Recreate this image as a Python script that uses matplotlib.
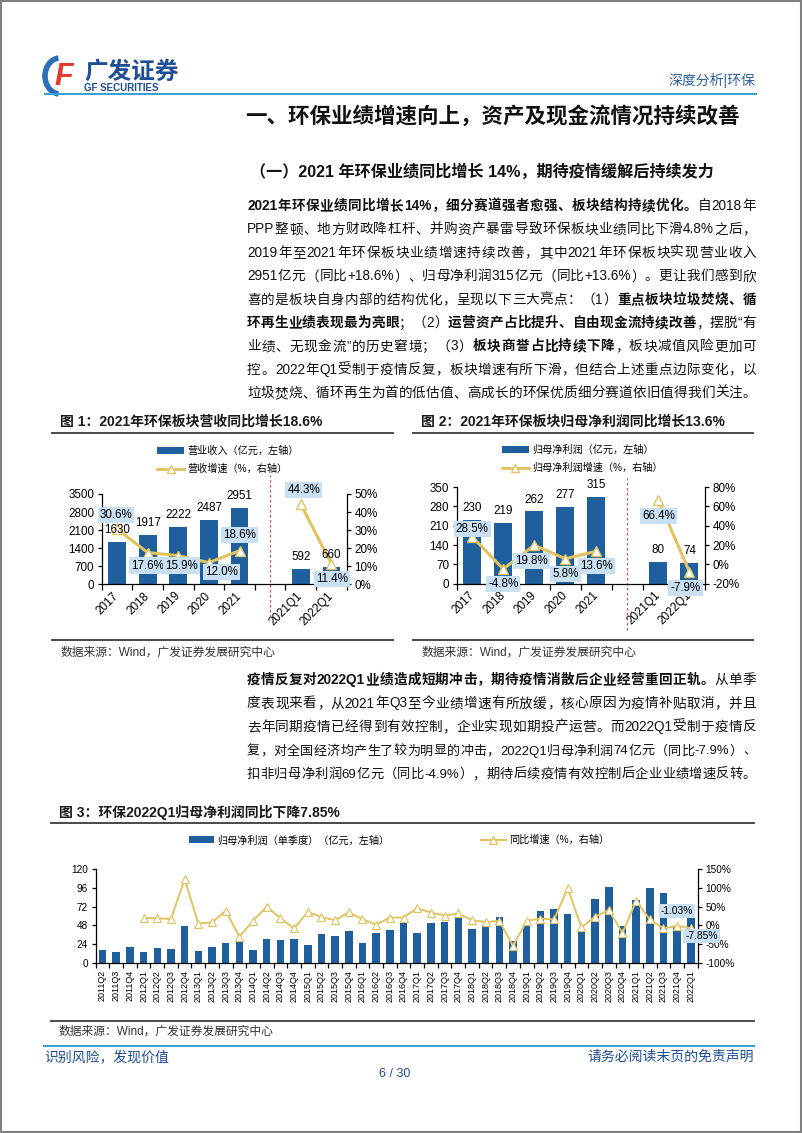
import re
import numpy as np
import matplotlib
matplotlib.use('Agg')
import matplotlib.pyplot as plt
from matplotlib.patches import Rectangle, Arc, Patch
from matplotlib.lines import Line2D
from matplotlib.ticker import FuncFormatter

FAM = ['Liberation Sans', 'Noto Sans CJK SC']
plt.rcParams['font.family'] = FAM

W, H = 802, 1133
BLUE = '#1f5f9e'
GOLD = '#e2c35f'
TAG = '#c9e0f3'
DASH = '#d9534f'
NAVY = '#1f4f96'

# ---- chart 1 / chart 2 data (annual + Q1) ----
cats_y = ['2017', '2018', '2019', '2020', '2021', '', '2021Q1', '2022Q1']
revenue = np.array([1630, 1917, 2222, 2487, 2951, np.nan, 592, 660])
revenue_yoy = np.array([30.6, 17.6, 15.9, 12.0, 18.6, np.nan, 44.3, 11.4])
profit = np.array([230, 219, 262, 277, 315, np.nan, 80, 74])
profit_yoy = np.array([28.5, -4.8, 19.8, 5.8, 13.6, np.nan, 66.4, -7.9])

# ---- chart 3 data (single quarter) ----
quarters = ['2011Q2', '2011Q3', '2011Q4'] + [f'{y}Q{q}' for y in range(2012, 2022) for q in range(1, 5)] + ['2022Q1']
q_profit = [16, 14.5, 21,
            14, 19, 18, 47.5,
            15, 21, 25, 29.5,
            17, 31, 30, 31,
            23, 37.5, 34.5, 41,
            26, 38, 42, 51,
            38, 51, 52, 58,
            44, 48, 59, 28,
            48.5, 66, 69, 62,
            42, 82, 97, 47,
            80, 96, 90, 46.5,
            74]
q_yoy = [np.nan, np.nan, np.nan,
         20, 19, 17, 123,
         5, 8, 39, -30,
         12, 50, 19, -8,
         36, 22, 14, 35,
         16, 2, 21, 21,
         46, 34, 26, 32,
         14, 9, 12, -55,
         12, 18, 16, 99,
         -5, 23, 41, -20,
         65, 16, -8, -1.03,
         -7.85]

fig = plt.figure(figsize=(W / 100, H / 100), dpi=100)
page = fig.add_axes([0, 0, 1, 1])
page.set_xlim(0, W)
page.set_ylim(H, 0)
page.axis('off')
renderer = fig.canvas.get_renderer()


def add_ax(x0, y0, x1, y1):
    return fig.add_axes([x0 / W, 1 - y1 / H, (x1 - x0) / W, (y1 - y0) / H])


TOKEN = re.compile(r"[A-Za-z0-9.%+\-]+|\S")


def text_line(y, runs, x0=247, x1=756, size=9.8, color='#111111'):
    # justified line: tokens spread evenly between x0 and x1
    items = []
    for s, bold in runs:
        for tok in TOKEN.findall(s):
            items.append(page.text(0, y, tok, fontsize=size, color=color,
                                   fontweight='bold' if bold else 'normal',
                                   ha='left', va='baseline'))
    widths = [t.get_window_extent(renderer=renderer).width for t in items]
    if sum(widths) > (x1 - x0):
        k = (x1 - x0) / sum(widths) * 0.985
        for t in items:
            t.set_fontsize(size * k)
        widths = [t.get_window_extent(renderer=renderer).width for t in items]
    gap = (x1 - x0 - sum(widths)) / max(len(items) - 1, 1)
    x = x0
    for t, w in zip(items, widths):
        t.set_x(x)
        x += w + gap


# ---- page frame and header ----
page.add_patch(Rectangle((1, 1), W - 2, H - 2, fill=False, ec='#808080', lw=1.5))
page.add_patch(Arc((60, 76), 30, 36, theta1=95, theta2=265, color='#2a6fb8', lw=4))
page.text(64, 77, 'F', fontsize=22, color='#e8382d', fontweight='bold', style='italic',
          ha='center', va='center', family='Liberation Sans')
page.text(84, 72, '广发证券', fontsize=17, color=NAVY, fontweight='bold', va='center')
page.text(84, 88, 'GF SECURITIES', fontsize=7, color=NAVY, fontweight='bold', va='center')
page.text(755, 81, '深度分析|环保', fontsize=10, color='#2f5f9f', ha='right', va='center')
page.plot([45, 756], [93.5, 93.5], color='#3aa0d8', lw=1.5)

page.text(245, 117, '一、环保业绩增速向上，资产及现金流情况持续改善', fontsize=15.5,
          fontweight='bold', va='center', color='#111111')
page.text(250, 172, '（一）2021 年环保业绩同比增长 14%，期待疫情缓解后持续发力', fontsize=11.6,
          fontweight='bold', va='center', color='#111111')

para1 = [
    [('2021年环保业绩同比增长14%，细分赛道强者愈强、板块结构持续优化。', True), ('自2018年', False)],
    [('PPP整顿、地方财政降杠杆、并购资产暴雷导致环保板块业绩同比下滑4.8%之后，', False)],
    [('2019年至2021年环保板块业绩增速持续改善，其中2021年环保板块实现营业收入', False)],
    [('2951亿元（同比+18.6%）、归母净利润315亿元（同比+13.6%）。更让我们感到欣', False)],
    [('喜的是板块自身内部的结构优化，呈现以下三大亮点：（1）', False), ('重点板块垃圾焚烧、循', True)],
    [('环再生业绩表现最为亮眼', True), ('；（2）', False), ('运营资产占比提升、自由现金流持续改善', True), ('，摆脱“有', False)],
    [('业绩、无现金流”的历史窘境；（3）', False), ('板块商誉占比持续下降', True), ('，板块减值风险更加可', False)],
    [('控。2022年Q1受制于疫情反复，板块增速有所下滑，但结合上述重点边际变化，以', False)],
    [('垃圾焚烧、循环再生为首的低估值、高成长的环保优质细分赛道依旧值得我们关注。', False)],
]
for i, runs in enumerate(para1):
    text_line(210 + 23.4 * i, runs)

para2 = [
    [('疫情反复对2022Q1业绩造成短期冲击，期待疫情消散后企业经营重回正轨。', True), ('从单季', False)],
    [('度表现来看，从2021年Q3至今业绩增速有所放缓，核心原因为疫情补贴取消，并且', False)],
    [('去年同期疫情已经得到有效控制，企业实现如期投产运营。而2022Q1受制于疫情反', False)],
    [('复，对全国经济均产生了较为明显的冲击，2022Q1归母净利润74亿元（同比-7.9%）、', False)],
    [('扣非归母净利润69亿元（同比-4.9%），期待后续疫情有效控制后企业业绩增速反转。', False)],
]
for i, runs in enumerate(para2):
    text_line(684 + 23.5 * i, runs)

# chart titles, rules, sources
for x0, x1, title in [(52, 393, '图 1：2021年环保板块营收同比增长18.6%'),
                      (413, 753, '图 2：2021年环保板块归母净利润同比增长13.6%')]:
    page.text(x0 + 8, 421.5, title, fontsize=10, fontweight='bold', va='center', color='#1a1a1a')
    page.plot([x0, x1], [432.5, 432.5], color='#3a3a3a', lw=1.3)
    page.plot([x0, x1], [640, 640], color='#3a3a3a', lw=1.3)
    page.text(x0 + 9, 653, '数据来源：Wind，广发证券发展研究中心', fontsize=8.5, va='center', color='#333333')

page.text(59, 812, '图 3：环保2022Q1归母净利润同比下降7.85%', fontsize=10, fontweight='bold',
          va='center', color='#1a1a1a')
page.plot([51, 754], [822.7, 822.7], color='#3a3a3a', lw=1.3)
page.plot([51, 754], [1020.7, 1020.7], color='#3a3a3a', lw=1.3)
page.text(59, 1032, '数据来源：Wind，广发证券发展研究中心', fontsize=8.5, va='center', color='#333333')

# footer
page.plot([44, 754], [1045.7, 1045.7], color='#3aa0d8', lw=1.5)
page.text(44, 1057, '识别风险，发现价值', fontsize=10, color=NAVY, va='center')
page.text(754, 1057, '请务必阅读末页的免责声明', fontsize=10, color=NAVY, va='center', ha='right')
page.text(395, 1074, '6 / 30', fontsize=9, color=NAVY, va='center', ha='center')

pct = FuncFormatter(lambda v, p: f'{v:.0f}%')


def style_axes(ax, axr, size):
    for s in ('top', 'right'):
        ax.spines[s].set_visible(False)
    for s in ('top', 'left', 'bottom'):
        axr.spines[s].set_visible(False)
    for a in (ax, axr):
        for s in a.spines.values():
            s.set_color('black')
            s.set_linewidth(0.9)
    ax.tick_params(axis='y', labelsize=size, length=3, width=0.9, pad=2.5)
    axr.tick_params(axis='y', labelsize=size, length=3, width=0.9, pad=2.5)
    axr.yaxis.set_major_formatter(pct)


def annual_chart(box, values, growth, lticks, rticks, offs, labels, leg_xy, dash):
    ax = add_ax(*box)
    x = np.arange(len(cats_y))
    ok = ~np.isnan(values)
    ax.bar(x[ok], values[ok], width=0.58, color=BLUE)
    ax.set_xlim(-0.5, len(x) - 0.5)
    ax.set_ylim(lticks[0], lticks[-1])
    ax.set_yticks(lticks)
    ax.set_xticks(x)
    ax.set_xticklabels(cats_y, rotation=45, ha='right', va='center', rotation_mode='anchor', fontsize=8.4)
    ax.tick_params(axis='x', length=0, pad=7)
    ax.set_xticks(np.arange(-0.5, len(x)), minor=True)
    ax.tick_params(axis='x', which='minor', length=4, width=0.9)
    ax.axvline(5, ymin=dash[0], ymax=dash[1], color=DASH, ls=(0, (2, 2)), lw=0.9, clip_on=False)

    axr = ax.twinx()
    axr.set_ylim(rticks[0], rticks[-1])
    axr.set_yticks(rticks)
    for seg in (slice(0, 5), slice(6, 8)):
        axr.plot(x[seg], growth[seg], color=GOLD, lw=2.2, marker='^', ms=7, mfc='white', mec=GOLD, mew=1)
    # bar values drawn on the twin so they sit above the growth line
    for xi, v in zip(x[ok], values[ok]):
        axr.annotate(f'{v:g}', (xi, v), xycoords=ax.transData, xytext=(0, 8.5), textcoords='offset points',
                     ha='center', va='center', fontsize=8.4, zorder=4)
    for xi, v, o in zip(x, growth, offs):
        if np.isnan(v):
            continue
        axr.annotate(f'{v:.1f}%', (xi, v), xytext=(o[0] * 0.72, o[1] * 0.72), textcoords='offset points',
                     ha='center', va='center', fontsize=8.4, zorder=5,
                     bbox=dict(boxstyle='square,pad=0.18', fc=TAG, ec='none'))
    style_axes(ax, axr, 8.4)
    handles = [Patch(facecolor=BLUE),
               Line2D([0], [0], color=GOLD, lw=2, marker='^', ms=6, mfc='white', mec=GOLD)]
    axr.legend(handles, labels, loc='upper left', bbox_to_anchor=leg_xy, bbox_transform=page.transData,
               frameon=False, prop={'family': FAM, 'size': 7.3}, handlelength=2.7, handletextpad=0.3,
               labelspacing=0.75, borderpad=0, borderaxespad=0)
    return ax, axr


annual_chart((101.7, 494, 346.7, 584.3), revenue, revenue_yoy, np.arange(0, 3501, 700), np.arange(0, 51, 10),
             [(-1, 14), (0, -13), (3, -10), (13, -9), (0, 16), None, (3, 14), (1, -15)],
             ['营业收入（亿元，左轴）', '营收增速（%，右轴）'], (157, 446), (-0.36, 1.21))
annual_chart((456.7, 487, 705, 583.7), profit, profit_yoy, np.arange(0, 351, 70), np.arange(-20, 81, 20),
             [(0, 8), (0, -15), (-3, -16), (0, -15), (0, -15), None, (0, -16), (-4, -16)],
             ['归母净利润（亿元，左轴）', '归母净利润增速（%，右轴）'], (501.7, 445), (-0.48, 1.09))

# ---- chart 3 ----
ax3 = add_ax(95.7, 869, 697.7, 963)
xq = np.arange(len(quarters))
ax3.bar(xq, q_profit, width=0.55, color=BLUE)
ax3.set_xlim(-0.5, len(xq) - 0.5)
ax3.set_ylim(0, 120)
ax3.set_yticks(np.arange(0, 121, 24))
ax3.set_xticks(xq)
ax3.set_xticklabels(quarters, rotation=90, fontsize=6.5)
ax3.tick_params(axis='x', length=0, pad=5)
ax3.set_xticks(np.arange(-0.5, len(xq)), minor=True)
ax3.tick_params(axis='x', which='minor', length=3.5, width=0.9)
axr3 = ax3.twinx()
axr3.set_ylim(-100, 150)
axr3.set_yticks(np.arange(-100, 151, 50))
axr3.plot(xq, q_yoy, color=GOLD, lw=1.4, marker='^', ms=5.5, mfc='white', mec=GOLD, mew=0.8)
for i, o in [(42, (0, 10.8)), (43, (7.7, -5.5))]:
    axr3.annotate(f'{q_yoy[i]:.2f}%', (xq[i], q_yoy[i]), xytext=o, textcoords='offset points',
                  ha='center', va='center', fontsize=7.4, zorder=5,
                  bbox=dict(boxstyle='square,pad=0.18', fc=TAG, ec='none'))
style_axes(ax3, axr3, 7.2)
handles3 = [Patch(facecolor=BLUE),
            Line2D([0], [0], color=GOLD, lw=1.6, marker='^', ms=5.5, mfc='white', mec=GOLD)]
axr3.legend(handles3, ['归母净利润（单季度）（亿元，左轴）', '同比增速（%，右轴）'], loc='upper left',
            bbox_to_anchor=(189, 835), bbox_transform=page.transData, ncol=2, frameon=False,
            prop={'family': FAM, 'size': 7.3}, handlelength=2.5, handletextpad=0.3,
            columnspacing=9.0, borderpad=0, borderaxespad=0)

fig.savefig('out.png', dpi=100)
